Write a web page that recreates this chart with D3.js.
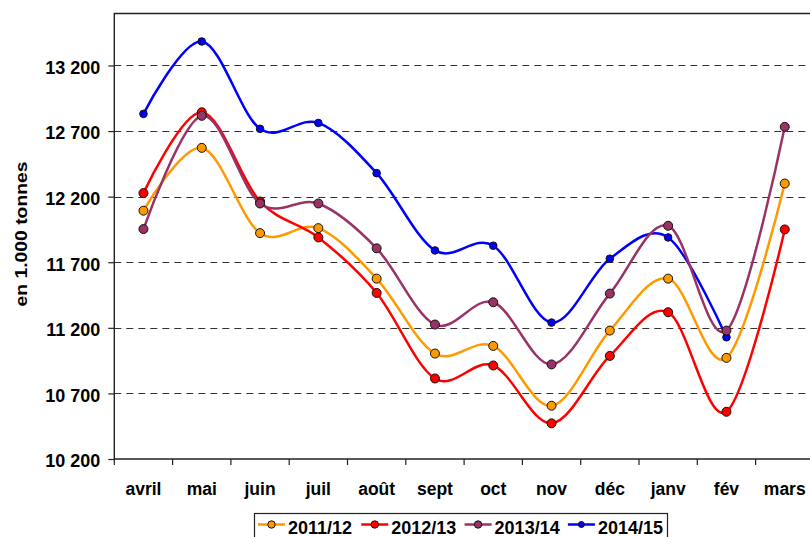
<!DOCTYPE html>
<html>
<head>
<meta charset="utf-8">
<script src="https://cdn.jsdelivr.net/npm/d3@7"></script>
<style>
  body { margin: 0; background: #fff; }
  svg { display: block; font-family: "Liberation Sans", Arial, sans-serif; font-weight: bold; }
</style>
</head>
<body>
<script>
const months = ['avril', 'mai', 'juin', 'juil', 'août', 'sept', 'oct', 'nov', 'déc', 'janv', 'fév', 'mars']

const s2011 = [12093, 12572, 11922, 11960, 11575, 11004, 11062, 10606, 11179, 11575, 10971, 12300]
const s2012 = [12227, 12843, 12163, 11889, 11466, 10814, 10913, 10472, 10986, 11319, 10560, 11950]
const s2013 = [11953, 12816, 12148, 12148, 11806, 11225, 11395, 10921, 11461, 11978, 11179, 12732]
const s2014 = [12831, 13383, 12717, 12762, 12379, 11790, 11826, 11240, 11727, 11889, 11128]

const yTicks = [10200, 10700, 11200, 11700, 12200, 12700, 13200]
const seriesNames = ['2011/12', '2012/13', '2013/14', '2014/15']

const w = 810
const h = 537
const plotLeft = 114.3
const plotTop = 13
const plotBottom = 459
const step = 58.3

const series = [
  { name: seriesNames[0], values: s2011, color: '#FF9900', r: 4.5 },
  { name: seriesNames[1], values: s2012, color: '#FF0000', r: 4.5 },
  { name: seriesNames[2], values: s2013, color: '#993366', r: 4.5 },
  { name: seriesNames[3], values: s2014, color: '#0000FF', r: 3.8 }
]

const svg = d3.select('body').append('svg').attr('width', w).attr('height', h)

const x = d3.scaleBand().domain(months).range([plotLeft, plotLeft + step * months.length])
const y = d3.scaleLinear().domain([10200, 13600]).range([plotBottom, plotTop])
const cx = (m) => x(m) + x.bandwidth() / 2

const fmt = d3.formatLocale({ decimal: ',', thousands: ' ', grouping: [3], currency: ['', ''] }).format(',d')

// gridlines
svg
  .append('g')
  .selectAll('line')
  .data(yTicks.slice(1))
  .enter()
  .append('line')
  .attr('x1', plotLeft)
  .attr('x2', w)
  .attr('y1', (d) => Math.round(y(d)) + 0.5)
  .attr('y2', (d) => Math.round(y(d)) + 0.5)
  .attr('stroke', '#333')
  .attr('stroke-width', 1.2)
  .attr('stroke-dasharray', '7,5')

// frame
svg
  .append('path')
  .attr('d', `M${w + 5},${plotTop + 0.5}H${plotLeft}V${plotBottom}H${w + 5}`)
  .attr('fill', 'none')
  .attr('stroke', '#222')
  .attr('stroke-width', 1.4)

// y axis
const yAxis = d3.axisLeft(y).tickValues(yTicks).tickSize(6).tickPadding(8).tickFormat(fmt)
const gy = svg.append('g').attr('transform', `translate(${plotLeft},0)`).call(yAxis)
gy.select('.domain').remove()
gy.selectAll('line').attr('stroke', '#222').attr('stroke-width', 1.2)
gy.selectAll('text').attr('dy', '0.44em').attr('font-size', 18).attr('fill', '#000')

// x axis
const xAxis = d3.axisBottom(x).tickSize(0)
const gx = svg.append('g').attr('transform', `translate(0,${plotBottom})`).call(xAxis)
gx.select('.domain').remove()
gx.selectAll('text').attr('y', 36).attr('dy', 0).attr('font-size', 17.5).attr('fill', '#000')
gx.selectAll('.edge')
  .data(months.map((m) => x(m)).concat([x(months[months.length - 1]) + step]))
  .enter()
  .append('line')
  .attr('class', 'edge')
  .attr('x1', (d) => d)
  .attr('x2', (d) => d)
  .attr('y1', 0)
  .attr('y2', 6)
  .attr('stroke', '#222')
  .attr('stroke-width', 1.2)

// axis title
svg
  .append('text')
  .attr('transform', 'translate(27,234) rotate(-90)')
  .attr('text-anchor', 'middle')
  .attr('font-size', 16.5)
  .attr('textLength', 145)
  .attr('lengthAdjust', 'spacingAndGlyphs')
  .text('en 1.000 tonnes')

// series
const line = d3
  .line()
  .x((d, i) => cx(months[i]))
  .y((d) => y(d))
  .curve(d3.curveCardinal.tension(0))

const drawOrder = [series[3], series[0], series[1], series[2]]

drawOrder.forEach((s) => {
  const g = svg.append('g')
  g.append('path')
    .attr('d', line(s.values))
    .attr('fill', 'none')
    .attr('stroke', s.color)
    .attr('stroke-width', 2.5)
  g.selectAll('circle')
    .data(s.values)
    .enter()
    .append('circle')
    .attr('cx', (d, i) => cx(months[i]))
    .attr('cy', (d) => y(d))
    .attr('r', s.r)
    .attr('fill', s.color)
    .attr('stroke', '#111')
    .attr('stroke-width', 1)
})

// legend
const lg = svg.append('g')
lg.append('rect')
  .attr('x', 254.5)
  .attr('y', 513.5)
  .attr('width', 413)
  .attr('height', 40)
  .attr('fill', '#fff')
  .attr('stroke', '#222')
  .attr('stroke-width', 1.2)

series.forEach((s, i) => {
  const ox = 258 + i * 103.3
  lg.append('line')
    .attr('x1', ox)
    .attr('x2', ox + 27)
    .attr('y1', 524.5)
    .attr('y2', 524.5)
    .attr('stroke', s.color)
    .attr('stroke-width', 2.5)
  lg.append('circle')
    .attr('cx', ox + 13.5)
    .attr('cy', 524.5)
    .attr('r', s.r - 0.8)
    .attr('fill', s.color)
    .attr('stroke', '#111')
    .attr('stroke-width', 1)
  lg.append('text')
    .attr('x', ox + 30)
    .attr('y', 534)
    .attr('font-size', 18)
    .text(s.name)
})
</script>
</body>
</html>
